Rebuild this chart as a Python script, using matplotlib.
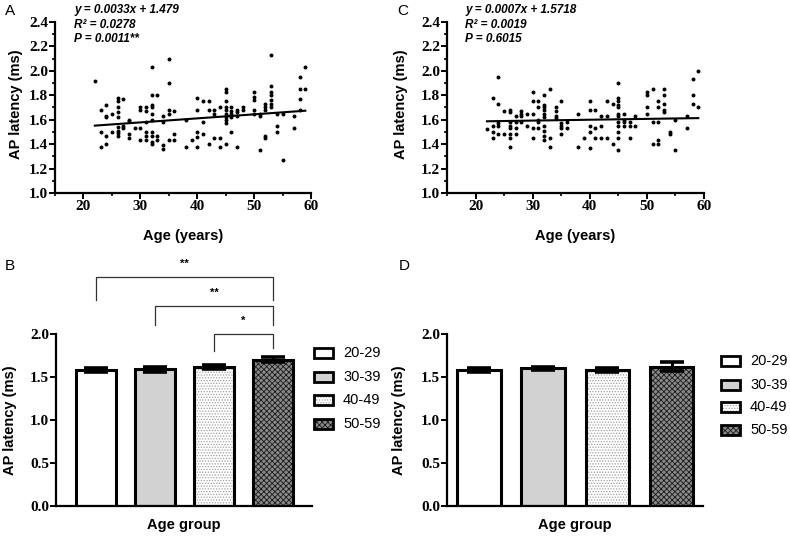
import matplotlib
matplotlib.use("Agg")
import matplotlib.pyplot as plt
from matplotlib.patches import Rectangle
from matplotlib.ticker import MultipleLocator
import numpy as np

# ---------------- data ----------------
age_A = [22,
         23, 23, 23,
         24, 24, 24, 24, 24,
         25, 25,
         26, 26, 26, 26, 26, 26, 26, 26, 26,
         27, 27, 27,
         28, 28, 28, 28,
         29,
         30, 30, 30, 30,
         31, 31, 31, 31, 31, 31,
         32, 32, 32, 32, 32, 32, 32, 32, 32, 32,
         33, 33, 33,
         34, 34, 34, 34,
         35, 35, 35, 35, 35,
         36, 36, 36,
         38, 38,
         39,
         40, 40, 40, 40, 40,
         41, 41, 41,
         42, 42, 42,
         43, 43, 43,
         44, 44, 44,
         45, 45, 45, 45, 45, 45, 45, 45, 45, 45,
         46, 46, 46, 46, 46,
         47, 47, 47, 47,
         48, 48,
         50, 50, 50, 50, 50,
         51, 51, 51,
         52, 52, 52, 52, 52,
         53, 53, 53, 53, 53, 53, 53,
         54, 54, 54,
         55, 55,
         57, 57,
         58, 58, 58, 58,
         59, 59]
lat_A = [1.92,
         1.68, 1.50, 1.38,
         1.72, 1.63, 1.62, 1.47, 1.40,
         1.65, 1.50,
         1.78, 1.75, 1.70, 1.66, 1.62, 1.54, 1.51, 1.49, 1.47,
         1.77, 1.55, 1.53,
         1.60, 1.59, 1.48, 1.45,
         1.53,
         1.70, 1.68, 1.53, 1.43,
         1.70, 1.67, 1.58, 1.50, 1.47, 1.43,
         2.03, 1.80, 1.72, 1.70, 1.65, 1.60, 1.50, 1.47, 1.42, 1.40,
         1.80, 1.47, 1.43,
         1.63, 1.58, 1.39, 1.36,
         2.10, 1.90, 1.68, 1.65, 1.43,
         1.67, 1.48, 1.43,
         1.60, 1.38,
         1.43,
         1.78, 1.68, 1.50, 1.46, 1.38,
         1.75, 1.58, 1.48,
         1.75, 1.68, 1.40,
         1.68, 1.65, 1.45,
         1.70, 1.45, 1.38,
         1.85, 1.83, 1.75, 1.70, 1.68, 1.65, 1.62, 1.60, 1.57, 1.40,
         1.70, 1.67, 1.65, 1.62, 1.50,
         1.68, 1.66, 1.63, 1.38,
         1.70, 1.68,
         1.83, 1.79, 1.76, 1.68, 1.65,
         1.65, 1.63, 1.35,
         1.73, 1.70, 1.68, 1.47, 1.45,
         2.13, 1.88, 1.83, 1.80, 1.76, 1.73, 1.70,
         1.65, 1.55, 1.50,
         1.65, 1.27,
         1.63, 1.53,
         1.95, 1.85, 1.77, 1.68,
         2.03, 1.85]

age_C = [22,
         23, 23, 23, 23,
         24, 24, 24, 24, 24,
         25, 25,
         26, 26, 26, 26, 26, 26, 26, 26,
         27, 27, 27, 27,
         28, 28, 28, 28,
         29, 29,
         30, 30, 30, 30, 30,
         31, 31, 31, 31, 31,
         32, 32, 32, 32, 32, 32, 32, 32, 32, 32,
         33, 33, 33,
         34, 34, 34, 34,
         35, 35, 35, 35, 35,
         36, 36,
         38, 38,
         39,
         40, 40, 40, 40, 40,
         41, 41, 41,
         42, 42, 42,
         43, 43, 43,
         44, 44,
         45, 45, 45, 45, 45, 45, 45, 45, 45, 45, 45, 45,
         46, 46, 46, 46,
         47, 47, 47,
         48, 48,
         50, 50, 50, 50,
         51, 51, 51,
         52, 52, 52, 52, 52,
         53, 53, 53, 53, 53,
         54, 54,
         55, 55,
         57, 57,
         58, 58, 58,
         59, 59]
lat_C = [1.52,
         1.78, 1.55, 1.50, 1.45,
         1.95, 1.73, 1.57, 1.55, 1.48,
         1.67, 1.48,
         1.68, 1.66, 1.58, 1.55, 1.53, 1.48, 1.45, 1.38,
         1.63, 1.58, 1.53, 1.48,
         1.67, 1.65, 1.63, 1.58,
         1.65, 1.55,
         1.83, 1.75, 1.65, 1.53, 1.45,
         1.75, 1.70, 1.60, 1.58, 1.53,
         1.80, 1.72, 1.70, 1.68, 1.65, 1.62, 1.55, 1.51, 1.47, 1.43,
         1.85, 1.45, 1.38,
         1.70, 1.67, 1.63, 1.61,
         1.75, 1.57, 1.55, 1.53, 1.48,
         1.58, 1.53,
         1.65, 1.38,
         1.45,
         1.75, 1.68, 1.55, 1.50, 1.37,
         1.68, 1.53, 1.45,
         1.63, 1.55, 1.45,
         1.75, 1.63, 1.45,
         1.73, 1.40,
         1.90, 1.78, 1.75, 1.72, 1.70, 1.65, 1.63, 1.58, 1.55, 1.50, 1.45, 1.35,
         1.65, 1.60, 1.58, 1.55,
         1.58, 1.55, 1.45,
         1.63, 1.55,
         1.83, 1.80, 1.70, 1.65,
         1.85, 1.58, 1.40,
         1.75, 1.70, 1.58, 1.43, 1.40,
         1.85, 1.80, 1.73, 1.68, 1.66,
         1.50, 1.48,
         1.60, 1.35,
         1.63, 1.53,
         1.93, 1.80, 1.73,
         2.00, 1.70]

fit_A = [0.0033, 1.479]
fit_C = [0.0007, 1.5718]
stats_A = ["y = 0.0033x + 1.479", "R\u00b2 = 0.0278", "P = 0.0011**"]
stats_C = ["y = 0.0007x + 1.5718", "R\u00b2 = 0.0019", "P = 0.6015"]

groups = ["20-29", "30-39", "40-49", "50-59"]
mean_B = [1.58, 1.59, 1.62, 1.70]
sem_B = [0.02, 0.03, 0.025, 0.03]
mean_D = [1.58, 1.60, 1.58, 1.62]
sem_D = [0.02, 0.02, 0.02, 0.05]

# significance comparisons for B: (group i, group j, label)
sig_B = [(0, 3, "**"), (1, 3, "**"), (2, 3, "*")]

# ---------------- style ----------------
W, H = 790, 537
fig = plt.figure(figsize=(W / 100, H / 100), dpi=100)
plt.rcParams['hatch.linewidth'] = 0.6

SANS = "Liberation Sans"
SERIF = "Liberation Serif"

face = ["white", "#d2d2d2", "white", "#8a8a8a"]
hatch = [None, None, "......", "xxxxxx"]
hatch_col = ["white", "#d2d2d2", "#a0a0a0", "#1a1a1a"]


def px_axes(l, t, r, b):
    return fig.add_axes([l / W, 1 - b / H, (r - l) / W, (b - t) / H])


def style_axes(ax):
    for s in ["top", "right"]:
        ax.spines[s].set_visible(False)
    for s in ["left", "bottom"]:
        ax.spines[s].set_linewidth(1.6)
    ax.tick_params(which="major", length=4, width=1.4, pad=1.0)
    ax.tick_params(which="minor", length=2.5, width=1.2)
    for lab in ax.get_xticklabels() + ax.get_yticklabels():
        lab.set_fontfamily(SERIF)
        lab.set_fontweight("bold")
        lab.set_fontsize(11)


def scatter_panel(ax, ages, lats, fit, stats, letter, letter_x, text_x):
    ax.scatter(ages, lats, s=8, color="black", linewidths=0, zorder=3)
    xs = np.array([min(ages), max(ages)])
    ax.plot(xs, fit[0] * xs + fit[1], color="black", lw=1.5, zorder=4)
    ax.set_xlim(15, 60)
    ax.set_ylim(1.0, 2.4)
    ax.xaxis.set_major_locator(MultipleLocator(10))
    ax.xaxis.set_minor_locator(MultipleLocator(5))
    ax.yaxis.set_major_locator(MultipleLocator(0.2))
    ax.yaxis.set_minor_locator(MultipleLocator(0.1))
    ax.yaxis.set_major_formatter(plt.FormatStrFormatter("%.1f"))
    style_axes(ax)
    ax.set_ylabel("AP latency (ms)", fontfamily=SANS, fontweight="bold", fontsize=10.5)
    ax.set_xlabel("Age (years)", fontfamily=SANS, fontweight="bold", fontsize=10.5)
    ax.xaxis.set_label_coords(0.5, -0.21)
    for i, s in enumerate(stats):
        fig.text(text_x / W, 1 - (10 + 14.5 * i) / H, s, fontfamily=SANS,
                 fontweight="bold", fontstyle="italic", fontsize=8.5, va="center")
    fig.text(letter_x / W, 1 - 11 / H, letter, fontfamily=SANS, fontsize=11, va="center")


def bar_panel(ax, means, sems, letter, letter_x, xlim, width, legend_x, legend_y):
    x = np.arange(len(groups))
    for i in range(len(groups)):
        ax.bar(x[i], means[i], width=width, color=face[i], edgecolor=hatch_col[i],
               hatch=hatch[i], linewidth=0, zorder=2)
        ax.bar(x[i], means[i], width=width, fill=False, edgecolor="black",
               linewidth=2.2, zorder=3)
    ax.errorbar(x, means, yerr=sems, fmt="none", ecolor="black", elinewidth=2.2,
                capsize=8.5, capthick=2.6, zorder=4)
    ax.set_xlim(*xlim)
    ax.set_ylim(0, 2.0)
    ax.yaxis.set_major_locator(MultipleLocator(0.5))
    ax.yaxis.set_major_formatter(plt.FormatStrFormatter("%.1f"))
    ax.set_xticks([])
    style_axes(ax)
    ax.set_ylabel("AP latency (ms)", fontfamily=SANS, fontweight="bold", fontsize=10.5)
    ax.set_xlabel("Age group", fontfamily=SANS, fontweight="bold", fontsize=10.5)
    ax.xaxis.set_label_coords(0.5, -0.07)
    fig.text(letter_x / W, 1 - 266 / H, letter, fontfamily=SANS, fontsize=11, va="center")
    # legend
    for i, g in enumerate(groups):
        cy = legend_y[i]
        r1 = Rectangle((legend_x / W, 1 - (cy + 5) / H), 19 / W, 10 / H,
                       transform=fig.transFigure, facecolor=face[i],
                       edgecolor=hatch_col[i], hatch=hatch[i], linewidth=0)
        r2 = Rectangle((legend_x / W, 1 - (cy + 5) / H), 19 / W, 10 / H,
                       transform=fig.transFigure, fill=False, edgecolor="black",
                       linewidth=2.0)
        fig.add_artist(r1)
        fig.add_artist(r2)
        fig.text((legend_x + 29) / W, 1 - cy / H, g, fontfamily=SANS,
                 fontsize=10.5, va="center")


axA = px_axes(55, 22, 311, 193)
scatter_panel(axA, age_A, lat_A, fit_A, stats_A, "A", 5, 74)
axA.yaxis.set_label_coords(-0.125, 0.52)

axC = px_axes(447, 22, 704, 193)
scatter_panel(axC, age_C, lat_C, fit_C, stats_C, "C", 397, 465)
axC.yaxis.set_label_coords(-0.152, 0.52)

axB = px_axes(56, 334, 312, 506)
bar_panel(axB, mean_B, sem_B, "B", 5, (-0.68, 3.66), 0.68, 314, [353, 377, 400, 424])
axB.yaxis.set_label_coords(-0.152, 0.5)

# significance brackets for B
bracket_levels = [(2.66, 2.40, 2.40, 2.81), (2.33, 2.11, 2.11, 2.48), (2.0, 1.80, 1.84, 2.15)]
for (i, j, lab), (top, lb, rb, ty) in zip(sig_B, bracket_levels):
    axB.plot([i, i, j, j], [lb, top, top, rb], color="#333333", lw=0.9, clip_on=False)
    axB.text((i + j) / 2, ty, lab, ha="center", va="center", fontsize=8,
             fontfamily=SANS, fontweight="bold", clip_on=False)

axD = px_axes(447, 334, 703, 506)
bar_panel(axD, mean_D, sem_D, "D", 399, (-0.5, 3.49), 0.68, 721, [361, 385, 407, 430])
axD.yaxis.set_label_coords(-0.16, 0.5)

fig.savefig("out.png", dpi=100)
